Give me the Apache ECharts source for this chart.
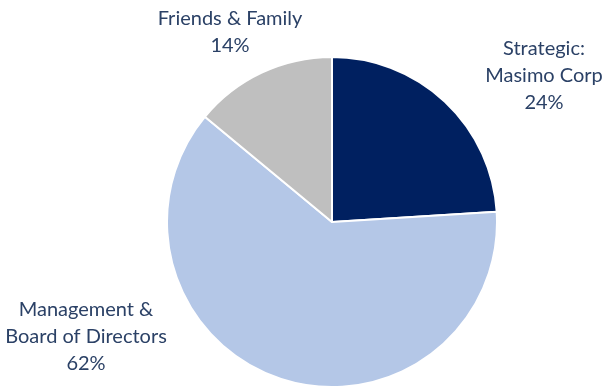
<!DOCTYPE html>
<html><head><meta charset="utf-8">
<script src="https://cdn.jsdelivr.net/npm/echarts@6/dist/echarts.min.js"></script>
<style>html,body{margin:0;padding:0;background:#fff}#c{width:604px;height:387px}</style>
</head><body><div id="c"></div>
<script>
const categories = ["Strategic:\nMasimo Corp", "Management &\nBoard of Directors", "Friends & Family"];
const values = [24, 62, 14];
const colors = ["#002060", "#B4C7E7", "#BFBFBF"];
const labelPos = [[544, 76], [86, 337], [230, 32]];

const chart = echarts.init(document.getElementById('c'));
chart.setOption({
  animation: false,
  series: [{
    type: 'pie',
    center: [332, 222],
    radius: 165,
    startAngle: 90,
    clockwise: true,
    data: categories.map((n, i) => ({name: n, value: values[i], itemStyle: {color: colors[i]}})),
    itemStyle: {borderColor: '#fff', borderWidth: 2},
    label: {
      show: true,
      position: 'outside',
      formatter: p => p.name + '\n' + p.value + '%',
      fontFamily: 'Lato',
      fontSize: 20,
      lineHeight: 27,
      color: '#2B4166',
      align: 'center',
      overflow: 'none',
      width: 250
    },
    labelLine: {show: false},
    labelLayout: p => ({x: labelPos[p.dataIndex][0], y: labelPos[p.dataIndex][1], align: 'center', verticalAlign: 'middle'})
  }]
});
</script></body></html>
